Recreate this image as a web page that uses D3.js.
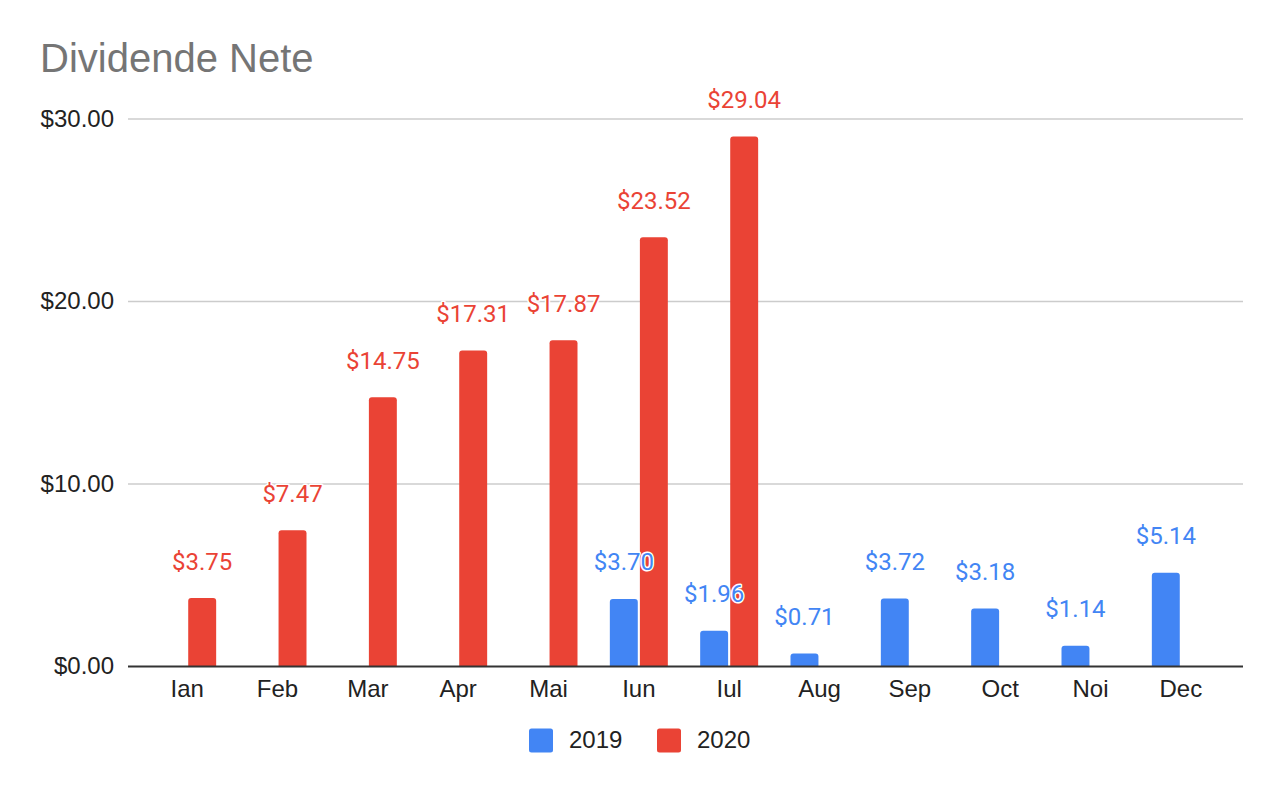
<!DOCTYPE html>
<html>
<head>
<meta charset="utf-8">
<script src="https://cdn.jsdelivr.net/npm/d3@7"></script>
<style>
  html, body { margin: 0; padding: 0; background: #fff; }
  svg { display: block; }
</style>
</head>
<body>
<svg id="chart" width="1282" height="792"></svg>
<script>
const months = ["Ian", "Feb", "Mar", "Apr", "Mai", "Iun", "Iul", "Aug", "Sep", "Oct", "Noi", "Dec"];
const seriesNames = ["2019", "2020"];
const values2019 = [null, null, null, null, null, 3.70, 1.96, 0.71, 3.72, 3.18, 1.14, 5.14];
const values2020 = [3.75, 7.47, 14.75, 17.31, 17.87, 23.52, 29.04, null, null, null, null, null];
const yTicks = [0, 10, 20, 30];
const colors = ["#4285F4", "#EA4335"];
const title = "Dividende Nete";

const svg = d3.select("#chart");
const W = 1282, H = 792;
const plot = { left: 128, right: 1243, top: 119, bottom: 666.5 };

const y = d3.scaleLinear().domain([0, 30]).range([plot.bottom, plot.top]);
const x0 = d3.scaleBand().domain(months).range([142, 1226]).paddingInner(0.358).paddingOuter(0.179);
const x1 = d3.scaleBand().domain(seriesNames).range([0, x0.bandwidth()]).paddingInner(0.07);
const color = d3.scaleOrdinal().domain(seriesNames).range(colors);

// Title
svg.append("text")
  .attr("x", 40).attr("y", 72)
  .attr("font-family", "'Liberation Sans', Arial, sans-serif")
  .attr("font-size", 40)
  .attr("fill", "#757575")
  .text(title);

// Gridlines
svg.append("g").selectAll("line").data(yTicks.filter(d => d !== 0)).join("line")
  .attr("x1", plot.left).attr("x2", plot.right)
  .attr("y1", d => y(d)).attr("y2", d => y(d))
  .attr("stroke", "#cccccc").attr("stroke-width", 1.5);

// Y axis labels
const yAxis = d3.axisLeft(y).tickValues(yTicks).tickSize(0).tickPadding(0)
  .tickFormat(d => "$" + d3.format(".2f")(d));
const yg = svg.append("g").attr("transform", `translate(114,0)`).call(yAxis);
yg.select(".domain").remove();
yg.selectAll("text")
  .attr("font-family", "'Liberation Sans', Arial, sans-serif")
  .attr("font-size", 24).attr("fill", "#222")
  .attr("dy", null).attr("y", 7).attr("x", 0);

// Data rows
const rows = months.map((m, i) => ({
  month: m,
  vals: seriesNames.map((s, j) => ({ s, v: (j === 0 ? values2019 : values2020)[i] }))
}));

function barPath(x, w, yTop, yBot, r) {
  const h = yBot - yTop;
  r = Math.min(r, h, w / 2);
  return `M${x},${yBot}V${yTop + r}Q${x},${yTop} ${x + r},${yTop}H${x + w - r}Q${x + w},${yTop} ${x + w},${yTop + r}V${yBot}Z`;
}

const groups = svg.append("g").selectAll("g").data(rows).join("g")
  .attr("transform", d => `translate(${x0(d.month)},0)`);

groups.selectAll("path").data(d => d.vals.filter(e => e.v != null)).join("path")
  .attr("d", e => barPath(x1(e.s), x1.bandwidth(), y(e.v), y(0), 3))
  .attr("fill", e => color(e.s));

// Baseline
svg.append("line")
  .attr("x1", plot.left).attr("x2", plot.right)
  .attr("y1", y(0)).attr("y2", y(0))
  .attr("stroke", "#333").attr("stroke-width", 2);

// X axis labels
const xAxis = d3.axisBottom(x0).tickSize(0).tickPadding(0);
const xg = svg.append("g").attr("transform", `translate(0,697)`).call(xAxis);
xg.select(".domain").remove();
xg.selectAll("text")
  .attr("font-family", "'Liberation Sans', Arial, sans-serif")
  .attr("font-size", 24).attr("fill", "#222")
  .attr("dy", null).attr("y", 0);

// Data labels
const labelData = [];
rows.forEach(r => r.vals.forEach(e => { if (e.v != null) labelData.push({ month: r.month, s: e.s, v: e.v }); }));
svg.append("g").selectAll("text").data(labelData).join("text")
  .attr("x", d => x0(d.month) + x1(d.s) + x1.bandwidth() / 2)
  .attr("y", d => y(d.v) - 28.5)
  .attr("text-anchor", "middle")
  .attr("font-family", "Roboto, sans-serif")
  .attr("font-size", 24)
  .attr("fill", d => color(d.s))
  .attr("stroke", "#fff").attr("stroke-width", 3).attr("stroke-linejoin", "round")
  .attr("paint-order", "stroke")
  .text(d => "$" + d3.format(".2f")(d.v));

// Legend
const legendItems = [{ s: "2019", x: 529 }, { s: "2020", x: 657 }];
const lg = svg.append("g").selectAll("g").data(legendItems).join("g")
  .attr("transform", d => `translate(${d.x},728.5)`);
lg.append("rect").attr("width", 24).attr("height", 24).attr("rx", 2.5)
  .attr("fill", d => color(d.s));
lg.append("text").attr("x", 40).attr("y", 19.5)
  .attr("font-family", "'Liberation Sans', Arial, sans-serif")
  .attr("font-size", 24).attr("fill", "#222")
  .text(d => d.s);
</script>
</body>
</html>
